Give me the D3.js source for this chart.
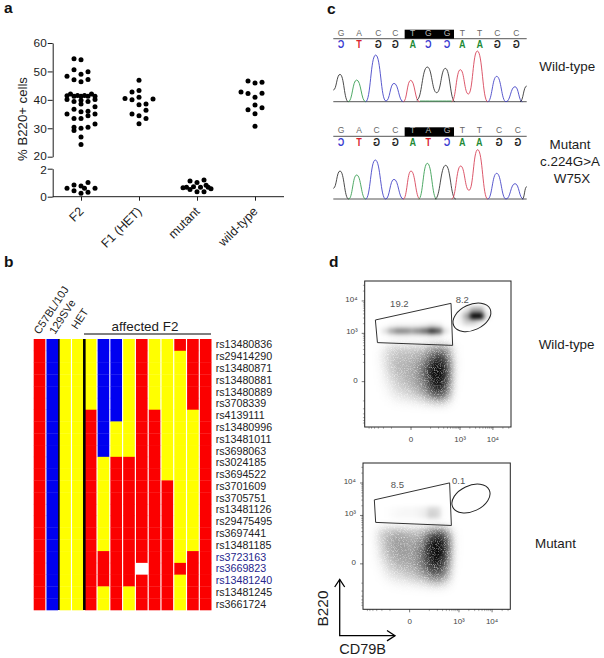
<!DOCTYPE html>
<html><head><meta charset="utf-8">
<script src="https://cdn.jsdelivr.net/npm/d3@7"></script>
<style>html,body{margin:0;padding:0;background:#fff}svg{display:block}text{font-family:"Liberation Sans",Arial,sans-serif}</style>
</head><body><div id="c"></div>
<script>
// ---------- panel a ----------
const groups = ["F2","F1 (HET)","mutant","wild-type"];
const yTicksUpper = [20,30,40,50,60];
const yTicksLower = [0,2];
const f2Upper = [54.5,54.1,50.6,49.9,49,48.3,47.1,47.2,46.4,42.1,42.1,41.5,41.5,41.4,41.3,41.3,41.3,41.3,40.1,40.1,39.9,39.4,39.4,38.5,37.6,36.7,36,35.8,35,35,34.4,33.4,33.4,31.5,30.4,30.4,30,29.2,26.9,24.3];
const f2UpperSlot = [-1,0,-1,1,0,-2,-1,1,0,-1.5,1.5,-.5,.5,-2,-1,0,1,2,-2,2,0,-1,1,0,2,-1,1,0,-2,2,1,-1,0,2,1,-1,0,-1,0,0];
const f2Lower = [1.02,.83,.76,.6,.6,.6,.43,.31,.24];
const f2LowerSlot = [1,-1,0,-2,.5,2,-1,1,0];
const f1Upper = [46.9,43.3,42.8,40.9,40.5,40.3,40,38.5,38.3,36.3,35,34.4,33.4,31.6];
const f1UpperSlot = [0,0,-1,0,-2,2,-1,1,0,1,-1,0,1,0];
const mutantLower = [1.19,1.12,1.02,.81,.71,.67,.67,.67,.64,.57,.52,.36,.36];
const mutantLowerSlot = [1,-1,0,1.3,-.5,-1.5,.5,1.6,-2,2,-1,0,1];
const wtUpper = [46.6,46.2,45.9,42.8,42.3,42.2,40.9,38.2,37.2,36.5,35.1,30.7];
const wtUpperSlot = [-1,1,0,-2,1,-1,0,0,1,-1,0,0];
// ---------- panel b ----------
const snps = ["rs13480836","rs29414290","rs13480871","rs13480881","rs13480889","rs3708339","rs4139111","rs13480996","rs13481011","rs3698063","rs3024185","rs3694522","rs3701609","rs3705751","rs13481126","rs29475495","rs3697441","rs13481185","rs3723163","rs3669823","rs13481240","rs13481245","rs3661724"];
const blueSnps = ["rs3723163","rs3669823","rs13481240"];
const strainHeaders = ["C57BL/10J","129SVe","HET"];
const genotypeColumns = [
 "RRRRRRRRRRRRRRRRRRRRRRR",
 "BBBBBBBBBBBBBBBBBBBBBBB",
 "YYYYYYYYYYYYYYYYYYYYYYY",
 "YYYYYYYYYYYYYYYYYYYYYYY",
 "YYYYYYRRRRRRRRRRRRRRRRR",
 "BBBBBBBBBBYYYYYYYYRRRYY",
 "BBBBBBBYYYRRRRRRRRRRRRR",
 "YYYYYYYYYYRRRRRRRRRRRYY",
 "RRRRRRRRRRRRRRRRRRRWRRR",
 "YYYYYYRRRRRRRRRRRRRRRRR",
 "YYYYYYYYYYYYRRRRRRRRRRR",
 "RYYYYYYYYYYYYYYYYYYRYYY",
 "RRRRRRYYYYYYYYYYYYRRRRR",
 "RRRRRRRRRRRRRRRRRRRRRRR"];
const genotypeColor = {R:"#fb0000",B:"#0000f0",Y:"#ffff00",W:"#ffffff"};
// ---------- panel c ----------
const wtCalls = "GACCTGGTTCC";
const mutCalls = "GACCTAGTTCC";
const wtCallPos = [63,117,175,226,278,325,381,427,479,532,589];
const mutCallPos = [63,117,170,226,278,325,381,427,478,537,593];
const complement = {G:"C",A:"T",C:"G",T:"A"};
const callColor = {C:"#3a3ad0",T:"#d8202c",G:"#222222",A:"#1e8a35"};
const wtTraces = [
 ["G",[[40,35],[60,82],[85,0]]],
 ["A",[[85,0],[110,65],[137,0]]],
 ["C",[[137,0],[167,140],[198,2]]],
 ["C",[[198,2],[222,55],[250,0]]],
 ["T",[[250,0],[272,64],[298,0]]],
 ["G",[[290,5],[322,104],[350,27],[376,100],[405,0]]],
 ["T",[[395,0],[421,96],[445,23],[472,152],[503,0]]],
 ["C",[[503,0],[530,76],[558,0]]],
 ["C",[[558,0],[585,45],[607,0]]],
 ["G",[[600,0],[620,47]]],
 ["A",[[300,2],[395,2]]]];
const mutTraces = [
 ["G",[[40,32],[60,84],[86,0]]],
 ["A",[[86,0],[110,72],[137,0]]],
 ["C",[[137,0],[166,117],[197,0]]],
 ["C",[[197,0],[222,59],[250,0]]],
 ["T",[[250,0],[273,84],[300,0]]],
 ["A",[[296,0],[322,107],[350,0]]],
 ["G",[[345,0],[377,101],[407,0]]],
 ["T",[[395,0],[422,99],[447,26],[473,148],[503,0]]],
 ["C",[[503,0],[530,77],[558,0]]],
 ["C",[[558,0],[585,46],[610,0]]],
 ["G",[[607,0],[620,37]]]];
const traceColor = {G:"#2b2b2b",A:"#2f9a4a",C:"#3b3bc4",T:"#d63a50"};
// ---------- panel d ----------
const wtCloud = [
[.14,.28,.32,.33,.33,.33,.38,.5,.55,.5,.1],
[.18,.34,.38,.38,.42,.44,.5,.72,.78,.66,.12],
[.18,.34,.42,.42,.44,.5,.6,.88,.95,.78,.16],
[.14,.34,.42,.44,.46,.55,.72,1,1,.84,.16],
[.11,.28,.38,.44,.46,.55,.72,1,1,.84,.12],
[.09,.22,.33,.38,.46,.53,.66,.95,1,.78,.1],
[.05,.16,.28,.33,.38,.46,.6,.84,.95,.72,.08],
[.03,.11,.2,.24,.3,.36,.46,.66,.78,.55,.05],
[0,.04,.09,.11,.13,.16,.22,.28,.33,.22,.02]];
const wtStripe = [
[.05,.12,.16,.16,.15,.16,.2,.28,.22,.05],
[.25,.5,.62,.62,.55,.62,.72,.9,.78,.25],
[.04,.1,.14,.14,.12,.12,.14,.18,.14,.03]];
const wtBlob = [
[.05,.22,.5,.5,.1],
[.16,.5,1,1,.22],
[.12,.32,.32,.16,.02]];
const mutCloud = [
[.28,.38,.44,.44,.38,.38,.44,.6,.72,.55,.08],
[.28,.44,.5,.5,.46,.46,.55,.84,.95,.78,.12],
[.24,.44,.53,.53,.5,.53,.66,1,1,.88,.12],
[.22,.42,.5,.53,.5,.55,.72,1,1,.84,.12],
[.16,.36,.46,.5,.5,.55,.68,.95,1,.78,.1],
[.11,.28,.4,.44,.46,.53,.66,.88,.95,.68,.08],
[.05,.2,.3,.36,.4,.46,.58,.75,.8,.58,.05],
[.02,.11,.2,.22,.28,.33,.42,.55,.6,.42,.03],
[0,.03,.06,.09,.11,.13,.16,.22,.24,.15,.01]];
const mutStripe = [
[.03,.06,.08,.1,.1,.12,.16,.28,.26,.04],
[.03,.07,.1,.1,.1,.12,.18,.32,.28,.04]];
const wtGate = [[7.3,73.3],[59,84.7],[60.1,55.9],[8.7,57.8]];
const mutGate = [[7.7,74.8],[58.8,86.4],[60,57.3],[8.6,59.4]];
const facsMajorTicks = [0,1000,10000];
const facsMajorLabels = ["0","10³","10⁴"];
const facsMinorTicks = [-600,-500,-400,-300,-200,-100,100,200,300,400,500,600,700,800,900,2000,3000,4000,5000,6000,7000,8000,9000,20000,30000];

const W=604,H=658;
const svg=d3.select("#c").append("svg").attr("width",W).attr("height",H).attr("viewBox",[0,0,W,H]);
const INK="#1c1c1c";
const defs=svg.append("defs");
function grainFilter(id,sd,gain,off){
  const f=defs.append("filter").attr("id",id).attr("x","-30%").attr("y","-30%").attr("width","160%").attr("height","160%").attr("color-interpolation-filters","sRGB");
  f.append("feGaussianBlur").attr("in","SourceGraphic").attr("stdDeviation",sd).attr("result","b");
  f.append("feTurbulence").attr("type","fractalNoise").attr("baseFrequency",1.3).attr("numOctaves",1).attr("seed",4).attr("result","n");
  f.append("feColorMatrix").attr("in","n").attr("type","matrix").attr("values",`0 0 0 0 0 0 0 0 0 0 0 0 0 0 0 0 0 0 ${gain} ${off}`).attr("result","na");
  f.append("feComposite").attr("in","b").attr("in2","na").attr("operator","in");
}
grainFilter("grain",4.2,1.7,0.12);
defs.append("filter").attr("id","soft").attr("x","-30%").attr("y","-50%").attr("width","160%").attr("height","200%").attr("color-interpolation-filters","sRGB").append("feGaussianBlur").attr("stdDeviation",2.2);

function panelLetter(t,x,y){svg.append("text").attr("x",x).attr("y",y).attr("font-size",15.5).attr("font-weight","bold").attr("fill","#111").text(t);}
panelLetter("a",4,13);panelLetter("b",4,267);panelLetter("c",327,14);panelLetter("d",329,267);

// ---------- a ----------
(function(){
 const g=svg.append("g");
 const yU=d3.scaleLinear().domain([20,60]).range([156.7,43]);
 const yL=d3.scaleLinear().domain([0,2]).range([196.7,168.7]);
 const x=d3.scalePoint().domain(groups).range([81,255]);
 const slot=d3.scaleLinear().domain([-3,3]).range([-21,21]);
 const axisX=52.7;
 const style=s=>{s.select(".domain").attr("stroke",INK).attr("stroke-width",1);s.selectAll(".tick line").attr("stroke",INK);s.selectAll("text").attr("font-family",'"Liberation Sans"').attr("font-size",11.8).attr("fill",INK);};
 const au=g.append("g").attr("transform",`translate(${axisX},0)`).call(d3.axisLeft(yU).tickValues(yTicksUpper).tickSize(5).tickPadding(1).tickSizeOuter(0)).call(style);
 const al=g.append("g").attr("transform",`translate(${axisX},0)`).call(d3.axisLeft(yL).tickValues(yTicksLower).tickFormat(d3.format("d")).tickSize(5).tickPadding(1).tickSizeOuter(0)).call(style);
 au.selectAll(".tick text").filter(d=>d===20).attr("dy","0.2em");
 al.selectAll(".tick text").filter(d=>d===2).attr("dy","0.42em");
 const xa=g.append("g").attr("transform",`translate(0,196.7)`).call(d3.axisBottom(x).tickSize(4).tickSizeOuter(0)).call(style);
 xa.select(".domain").remove();
 g.append("line").attr("x1",axisX).attr("x2",284).attr("y1",196.7).attr("y2",196.7).attr("stroke",INK);
 xa.selectAll(".tick text").attr("text-anchor","end").attr("font-size",12.5).each(function(){
   d3.select(this).attr("x",0).attr("y",0).attr("dx",0).attr("dy",0).attr("transform","translate(3,15.5) rotate(-45)");
 });
 g.append("text").attr("transform","translate(26.5,119) rotate(-90)").attr("text-anchor","middle").attr("font-size",13.2).attr("fill",INK).text("% B220+ cells");
 const sets=[[groups[0],f2Upper,f2UpperSlot,yU],[groups[0],f2Lower,f2LowerSlot,yL],[groups[1],f1Upper,f1UpperSlot,yU],[groups[2],mutantLower,mutantLowerSlot,yL],[groups[3],wtUpper,wtUpperSlot,yU]];
 sets.forEach(([c,v,s,sc])=>{
  g.append("g").selectAll("circle").data(v).join("circle").attr("cx",(d,i)=>x(c)+slot(s[i])).attr("cy",d=>sc(d)).attr("r",2.5).attr("fill","#000");
 });
})();

// ---------- b ----------
(function(){
 const g=svg.append("g");
 const x=d3.scaleBand().domain(d3.range(genotypeColumns.length)).range([33.7,211.5]).paddingInner(0.09);
 const y=d3.scaleBand().domain(snps).range([339,610]);
 genotypeColumns.forEach((col,ci)=>{
  g.append("g").selectAll("rect").data(col.split("")).join("rect")
   .attr("x",x(ci)).attr("width",x.bandwidth()).attr("y",(d,i)=>y(snps[i])).attr("height",y.bandwidth()+.3)
   .attr("fill",d=>genotypeColor[d]);
 });
 g.append("line").attr("x1",x(2)-.4).attr("x2",x(2)-.4).attr("y1",339).attr("y2",610).attr("stroke","#000").attr("stroke-width",1.6);
 g.append("line").attr("x1",x(4)-.5).attr("x2",x(4)-.5).attr("y1",339).attr("y2",610).attr("stroke","#000").attr("stroke-width",2.6);
 g.append("g").selectAll("text").data(snps).join("text")
   .attr("x",215.7).attr("y",d=>y(d)+y.bandwidth()/2+3.6).attr("font-size",10.7)
   .attr("fill",d=>blueSnps.includes(d)?"#25258c":"#222").text(d=>d);
 const hx=[[39.5,335],[55,335],[77,330]];
 g.append("g").selectAll("text").data(strainHeaders).join("text")
   .attr("transform",(d,i)=>`translate(${hx[i][0]},${hx[i][1]}) rotate(-57)`)
   .attr("font-size",11).attr("fill",INK).text(d=>d);
 g.append("text").attr("x",145).attr("y",331).attr("text-anchor","middle").attr("font-size",13.4).attr("fill",INK).text("affected F2");
 g.append("line").attr("x1",84).attr("x2",211).attr("y1",334).attr("y2",334).attr("stroke","#000").attr("stroke-width",1);
})();

// ---------- c ----------
function chromatogram(calls,pos,traces,base,lineY,boxTop){
 const g=svg.append("g");
 const x=d3.scaleLinear().domain([40,620]).range([333.3,526.7]);
 const y=d3.scaleLinear().domain([0,152]).range([base,base-152/3]);
 g.append("line").attr("x1",x(40)).attr("x2",x(620)).attr("y1",y(0)).attr("y2",y(0)).attr("stroke","#555").attr("stroke-width",1);
 const line=d3.line().x(d=>x(d[0])).y(d=>y(d[1])).curve(d3.curveBumpX);
 g.append("g").selectAll("path").data(traces).join("path").attr("d",d=>line(d[1])).attr("fill","none").attr("stroke",d=>traceColor[d[0]]).attr("stroke-width",.85);
 g.append("line").attr("x1",x(40)).attr("x2",x(620)).attr("y1",lineY).attr("y2",lineY).attr("stroke","#777").attr("stroke-width",1.2);
 g.append("rect").attr("x",x(254)).attr("width",x(402)-x(254)).attr("y",boxTop).attr("height",lineY-boxTop).attr("fill","#000");
 const letters=calls.split("");
 g.append("g").selectAll("text").data(letters).join("text").attr("x",(d,i)=>x(pos[i])).attr("y",lineY-3).attr("text-anchor","middle").attr("font-size",8.5)
  .attr("fill",(d,i)=>(i>=4&&i<=6)?"#bbb":"#666").text(d=>d);
 g.append("g").selectAll("text").data(letters).join("text")
  .attr("transform",(d,i)=>`translate(${x(pos[i])},${lineY+9.5}) scale(-0.85,1)`).attr("text-anchor","middle").attr("font-size",10.5).attr("font-weight","bold")
  .attr("fill",d=>callColor[complement[d]]).text(d=>complement[d]);
}
chromatogram(wtCalls,wtCallPos,wtTraces,101.7,38.7,29.7);
chromatogram(mutCalls,mutCallPos,mutTraces,199,136.3,127.3);
function label(t,x,y,anchor){svg.append("text").attr("x",x).attr("y",y).attr("text-anchor",anchor||"start").attr("font-size",13.4).attr("fill",INK).text(t);}
label("Wild-type",539.3,71);
label("Mutant",570,149,"middle");label("c.224G>A",570,165.5,"middle");label("W75X",572,183,"middle");
label("Wild-type",538.7,349.3);label("Mutant",535,548);

// ---------- d ----------
function facs(box,pops,gate,ell,labels){
 const [x0,x1,y0,y1]=box;
 const g=svg.append("g");
 const px=d3.scaleLinear().domain([0,100]).range([x0,x1]);
 const py=d3.scaleLinear().domain([0,100]).range([y1,y0]);
 const alpha=d3.scalePow().exponent(1.5).domain([0,1]).range([0,1]);
 pops.forEach(p=>{
  const rows=p.values, cols=d3.range(rows[0].length);
  const bx=d3.scaleBand().domain(cols).range([px(p.x[0]),px(p.x[1])]);
  const by=d3.scaleBand().domain(d3.range(rows.length)).range([py(p.y[0]),py(p.y[1])]);
  const pg=g.append("g").attr("filter",p.soft?"url(#soft)":"url(#grain)");
  rows.forEach((r,i)=>pg.append("g").selectAll("rect").data(r).join("rect")
    .attr("x",(d,j)=>bx(j)).attr("y",by(i)).attr("width",bx.bandwidth()+.3).attr("height",by.bandwidth()+.3)
    .attr("fill","#000").attr("fill-opacity",d=>alpha(d)));
 });
 // axes
 const sx=d3.scaleSymlog().constant(35).domain([-824,35000]).range([x0,x1]);
 const sy=d3.scaleSymlog().constant(35).domain([-806,40600]).range([y1,y0]);
 g.append("g").selectAll("line").data(facsMinorTicks).join("line").attr("x1",d=>sx(d)).attr("x2",d=>sx(d)).attr("y1",y1).attr("y2",y1+1.8).attr("stroke","#777").attr("stroke-width",.6);
 g.append("g").selectAll("line").data(facsMinorTicks).join("line").attr("y1",d=>sy(d)).attr("y2",d=>sy(d)).attr("x1",x0-1.8).attr("x2",x0).attr("stroke","#777").attr("stroke-width",.6);
 g.append("g").selectAll("line").data(facsMajorTicks).join("line").attr("x1",d=>sx(d)).attr("x2",d=>sx(d)).attr("y1",y1).attr("y2",y1+3).attr("stroke","#555").attr("stroke-width",.8);
 g.append("g").selectAll("line").data(facsMajorTicks).join("line").attr("y1",d=>sy(d)).attr("y2",d=>sy(d)).attr("x1",x0-3).attr("x2",x0).attr("stroke","#555").attr("stroke-width",.8);
 g.append("g").selectAll("text").data(facsMajorTicks).join("text").attr("x",d=>sx(d)).attr("y",y1+15).attr("text-anchor","middle").attr("font-size",8).attr("fill","#444").text((d,i)=>facsMajorLabels[i]);
 g.append("g").selectAll("text").data(facsMajorTicks).join("text").attr("x",x0-7).attr("y",d=>sy(d)+1).attr("text-anchor","end").attr("font-size",8).attr("fill","#444").text((d,i)=>facsMajorLabels[i]);
 g.append("rect").attr("x",x0).attr("y",y0).attr("width",x1-x0).attr("height",y1-y0).attr("fill","none").attr("stroke","#222").attr("stroke-width",1);
 // gates
 const gl=d3.line().x(d=>px(d[0])).y(d=>py(d[1])).curve(d3.curveLinearClosed);
 g.append("path").attr("d",gl(gate)).attr("fill","none").attr("stroke","#333").attr("stroke-width",1);
 g.append("ellipse").attr("transform",`translate(${px(ell[0])},${py(ell[1])}) rotate(-25)`).attr("rx",px(ell[2])-px(0)).attr("ry",px(ell[3])-px(0)).attr("fill","none").attr("stroke","#222").attr("stroke-width",1);
 g.append("g").selectAll("text").data(labels).join("text").attr("x",d=>px(d[1])).attr("y",d=>py(d[2])+3.3).attr("text-anchor","middle").attr("font-size",9.5).attr("fill","#555").text(d=>d[0]);
}
facs([364.7,511,281,427],[
 {values:wtCloud,x:[10.5,63.1],y:[56.2,15]},
 {values:wtStripe,x:[11.6,57.2],y:[71,60.7],soft:true},
 {values:wtBlob,x:[62.9,85.6],y:[82.2,69.9],soft:true}],
 wtGate,[73.3,75.1,13.7,8.7],[["19.2",23.7,84.7],["8.2",66.7,87]]);
facs([363,510.3,463,609.3],[
 {values:mutCloud,x:[9.3,63.6],y:[55.4,14.4]},
 {values:mutStripe,x:[13.8,56.8],y:[70.2,62.2],soft:true}],
 mutGate,[73.3,75.7,13.7,8.7],[["8.5",23.3,85.2],["0.1",64.9,87.7]]);

// arrows
(function(){
 const g=svg.append("g").attr("fill","none").attr("stroke","#000").attr("stroke-width",1.3);
 g.append("path").attr("d",d3.line()([[339.7,579.5],[339.7,635.7],[395,635.7]]));
 g.append("path").attr("d",d3.line()([[334.7,587],[339.7,579.5],[344.7,587]]));
 g.append("path").attr("d",d3.line()([[387,630.5],[395,635.7],[387,640.9]]));
 svg.append("text").attr("transform","translate(327.5,626.5) rotate(-90)").attr("font-size",15.4).attr("fill",INK).text("B220");
 svg.append("text").attr("x",339.3).attr("y",653.7).attr("font-size",14.5).attr("fill",INK).text("CD79B");
})();
</script></body></html>
